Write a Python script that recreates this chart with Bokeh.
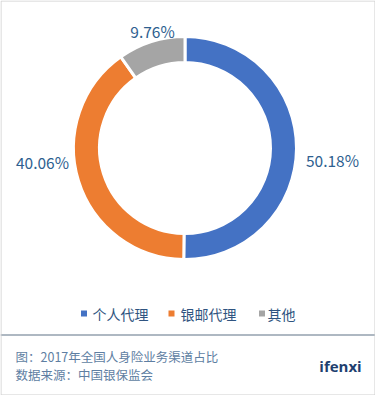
import numpy as np
from bokeh.plotting import figure
from bokeh.models import Range1d, ColumnDataSource
from bokeh.core.properties import value
from bokeh.embed import file_html
from bokeh.resources import INLINE

# ---- data ----
categories = ["个人代理", "银邮代理", "其他"]
shares = [50.18, 40.06, 9.76]
labels = ["50.18%", "40.06%", "9.76%"]
colors = ["#4472C4", "#ED7D31", "#A5A5A5"]
title_text = "图：2017年全国人身险业务渠道占比"
source_text = "数据来源：中国银保监会"
brand = "ifenxi"

# ---- layout / style ----
W, H = 375, 395
cx, cy = 184.5, H - 147.5
r_out, r_in = 111.5, 85.5
label_pos = [(332, H - 159), (42, H - 161), (152, H - 30)]
legend_sq_x = [83.5, 171, 261.5]
legend_txt_x = [92, 180, 267]
legend_y = H - 313
FONT = "Noto Sans CJK SC"

p = figure(width=W, height=H, output_backend="svg", toolbar_location=None,
           x_range=Range1d(0, W), y_range=Range1d(0, H), min_border=0)
p.axis.visible = False
p.grid.visible = False
p.outline_line_color = None
p.background_fill_color = "white"

tot = float(sum(shares))
fr = np.array(shares) / tot
cum = np.concatenate([[0], np.cumsum(fr)])
start = np.pi / 2 - 2 * np.pi * cum[:-1]
end = np.pi / 2 - 2 * np.pi * cum[1:]

src = ColumnDataSource(dict(start=start, end=end, color=colors))
p.annular_wedge(x=cx, y=cy, inner_radius=r_in, outer_radius=r_out,
                start_angle="start", end_angle="end", direction="clock",
                fill_color="color", line_color="white", line_width=3, source=src)

# data labels
p.text(x=[q[0] for q in label_pos], y=[q[1] for q in label_pos], text=labels,
       text_font=value(FONT), text_font_size="15.5px", text_color="#2E5F90",
       text_align="center", text_baseline="middle")

# legend
p.scatter(x=legend_sq_x, y=[legend_y] * 3, marker="square", size=6,
          fill_color=colors, line_color=None)
p.text(x=legend_txt_x, y=[legend_y] * 3, text=categories,
       text_font=value(FONT), text_font_size="14px", text_color="#2F5480",
       text_align="left", text_baseline="middle")

# separator
p.line(x=[0, W], y=[H - 334.5] * 2, line_color="#AEB8C2", line_width=2)

# footer
p.text(x=[15, 15], y=[H - 356, H - 374], text=[title_text, source_text],
       text_font=value(FONT), text_font_size="12.5px", text_color="#5E7EA2",
       text_align="left", text_baseline="middle")
p.text(x=[340], y=[H - 365], text=[brand], text_font=value("Open Sans"),
       text_font_size="15px", text_font_style="bold", text_color="#1F3F70",
       text_align="center", text_baseline="middle")

# border
p.line(x=[0.5, W - 0.5, W - 0.5, 0.5, 0.5], y=[0.5, 0.5, H - 0.5, H - 0.5, 0.5],
       line_color="#CFCFCF", line_width=1)

open("out.html", "w").write(file_html(p, INLINE))
